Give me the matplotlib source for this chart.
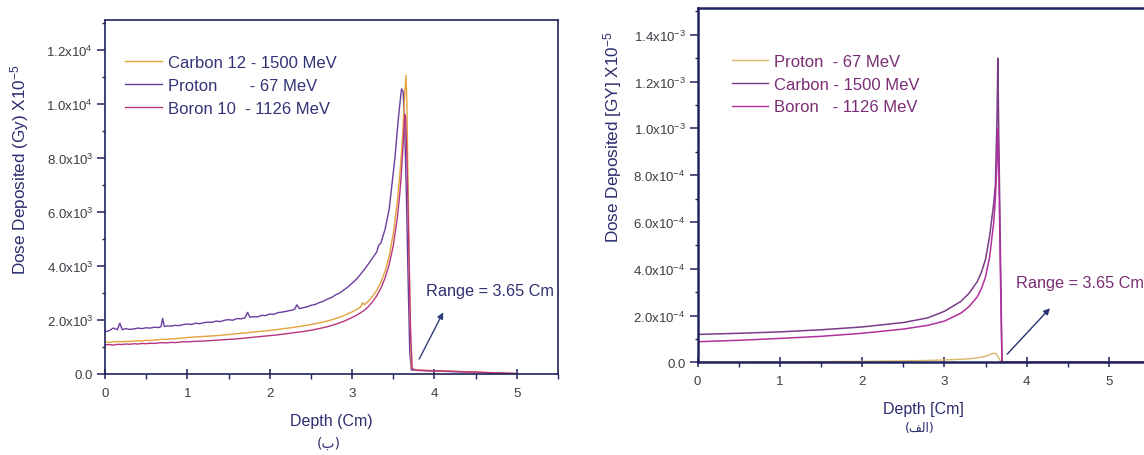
import matplotlib
matplotlib.use("Agg")
import matplotlib.pyplot as plt
from matplotlib.ticker import MultipleLocator

plt.rcParams['font.family'] = ['Liberation Sans', 'DejaVu Sans']
plt.rcParams['mathtext.fontset'] = 'custom'
plt.rcParams['mathtext.rm'] = 'Liberation Sans'

# ---------------- Left panel (ب) data ----------------
left_proton_depth = [0.00, 0.05, 0.10, 0.15, 0.18, 0.21, 0.25, 0.30, 0.35, 0.40, 0.45, 0.50, 0.55, 0.60,
                     0.65, 0.68, 0.70, 0.72, 0.76, 0.80, 0.85, 0.90, 0.95, 1.00, 1.05, 1.10, 1.15, 1.20,
                     1.25, 1.30, 1.35, 1.40, 1.45, 1.50, 1.55, 1.60, 1.65, 1.70, 1.73, 1.76, 1.80, 1.85,
                     1.90, 1.95, 2.00, 2.05, 2.10, 2.15, 2.20, 2.25, 2.30, 2.33, 2.36, 2.40, 2.45, 2.50,
                     2.55, 2.60, 2.65, 2.70, 2.75, 2.80, 2.85, 2.90, 2.95, 3.00, 3.05, 3.10, 3.15, 3.20,
                     3.25, 3.30, 3.32, 3.35, 3.40, 3.45, 3.48, 3.52, 3.56, 3.58, 3.60, 3.62, 3.64, 3.66,
                     3.68, 3.70, 3.72, 3.75, 3.80, 3.90, 4.00, 4.20, 4.50, 4.80, 5.00]
left_proton_dose = [1560, 1600, 1700, 1640, 1880, 1640, 1680, 1650, 1670, 1700, 1680, 1710, 1700, 1730,
                    1720, 1750, 2060, 1760, 1780, 1770, 1800, 1790, 1830, 1850, 1830, 1880, 1860, 1900,
                    1920, 1910, 1960, 1940, 1990, 2010, 1990, 2050, 2040, 2080, 2280, 2100, 2120, 2110,
                    2170, 2160, 2220, 2210, 2270, 2290, 2320, 2350, 2390, 2560, 2420, 2450, 2480, 2540,
                    2570, 2640, 2690, 2770, 2830, 2930, 3000, 3110, 3220, 3360, 3500, 3680, 3870, 4080,
                    4300, 4520, 4750, 4850, 5350, 6100, 6900, 8000, 9400, 10000, 10550, 10450, 9000, 6500,
                    3500, 800, 150, 140, 130, 120, 110, 90, 60, 30, 15]

left_carbon_depth = [0.00, 0.05, 0.10, 0.15, 0.20, 0.25, 0.30, 0.35, 0.40, 0.45, 0.50, 0.55, 0.60, 0.65,
                     0.70, 0.75, 0.80, 0.85, 0.90, 0.95, 1.00, 1.10, 1.20, 1.30, 1.40, 1.50, 1.60, 1.70,
                     1.80, 1.90, 2.00, 2.10, 2.20, 2.30, 2.40, 2.50, 2.60, 2.70, 2.80, 2.90, 3.00, 3.05,
                     3.10, 3.13, 3.15, 3.20, 3.25, 3.30, 3.35, 3.40, 3.45, 3.50, 3.55, 3.58, 3.60, 3.62,
                     3.64, 3.655, 3.665, 3.68, 3.70, 3.72, 3.75, 3.80, 3.90, 4.00, 4.20, 4.50, 4.80, 5.00]
left_carbon_dose = [1180, 1170, 1190, 1200, 1190, 1210, 1200, 1220, 1230, 1220, 1250, 1240, 1260, 1270,
                    1290, 1280, 1300, 1310, 1320, 1330, 1350, 1370, 1390, 1410, 1430, 1460, 1490, 1520,
                    1550, 1580, 1610, 1650, 1690, 1730, 1780, 1830, 1890, 1960, 2050, 2160, 2300, 2380,
                    2470, 2640, 2560, 2700, 2880, 3100, 3400, 3800, 4350, 5200, 6400, 7400, 8200, 9200,
                    10400, 11050, 10000, 7000, 3000, 250, 150, 140, 130, 120, 100, 70, 35, 15]

left_boron_depth = [0.00, 0.05, 0.10, 0.15, 0.20, 0.25, 0.30, 0.35, 0.40, 0.45, 0.50, 0.55, 0.60, 0.65,
                    0.70, 0.75, 0.80, 0.85, 0.90, 0.95, 1.00, 1.10, 1.20, 1.30, 1.40, 1.50, 1.60, 1.70,
                    1.80, 1.90, 2.00, 2.10, 2.20, 2.30, 2.40, 2.50, 2.60, 2.70, 2.80, 2.90, 3.00, 3.05,
                    3.10, 3.15, 3.20, 3.25, 3.30, 3.35, 3.40, 3.45, 3.50, 3.55, 3.58, 3.60, 3.62, 3.64,
                    3.65, 3.67, 3.69, 3.71, 3.73, 3.76, 3.80, 3.90, 4.00, 4.20, 4.50, 4.80, 5.00]
left_boron_dose = [1080, 1090, 1070, 1100, 1090, 1110, 1100, 1120, 1110, 1130, 1120, 1140, 1130, 1150,
                   1160, 1150, 1170, 1160, 1180, 1190, 1190, 1210, 1220, 1240, 1260, 1280, 1300, 1330,
                   1360, 1390, 1420, 1450, 1490, 1530, 1570, 1620, 1680, 1750, 1840, 1950, 2090, 2170,
                   2260, 2360, 2500, 2680, 2900, 3180, 3550, 4050, 4750, 5800, 6700, 7500, 8500, 9600,
                   9500, 7500, 4500, 1500, 200, 160, 140, 130, 120, 100, 70, 35, 15]

left_labels = ['Carbon 12 - 1500 MeV', 'Proton       - 67 MeV', 'Boron 10  - 1126 MeV']
left_yticks = [0, 2000, 4000, 6000, 8000, 10000, 12000]
left_yticklabels = ['0.0', r'$\mathregular{2.0x10^{3}}$', r'$\mathregular{4.0x10^{3}}$',
                    r'$\mathregular{6.0x10^{3}}$', r'$\mathregular{8.0x10^{3}}$',
                    r'$\mathregular{1.0x10^{4}}$', r'$\mathregular{1.2x10^{4}}$']
xticks = [0, 1, 2, 3, 4, 5]

# ---------------- Right panel (الف) data ----------------
right_carbon_depth = [0.0, 0.5, 1.0, 1.5, 2.0, 2.5, 2.8, 3.0, 3.2, 3.3, 3.4, 3.45, 3.5, 3.55, 3.6,
                      3.62, 3.64, 3.65, 3.66, 3.68, 3.70, 4.0, 5.0, 5.5]
right_carbon_dose = [1.19e-4, 1.24e-4, 1.30e-4, 1.39e-4, 1.51e-4, 1.70e-4, 1.90e-4, 2.18e-4, 2.60e-4,
                     2.95e-4, 3.45e-4, 3.85e-4, 4.40e-4, 5.40e-4, 6.80e-4, 7.60e-4, 1.05e-3, 1.30e-3,
                     1.00e-3, 5.0e-4, 0.0, 0.0, 0.0, 0.0]
right_boron_depth = [0.0, 0.5, 1.0, 1.5, 2.0, 2.5, 2.8, 3.0, 3.2, 3.3, 3.4, 3.45, 3.5, 3.55, 3.6,
                     3.62, 3.64, 3.65, 3.66, 3.68, 3.70, 4.0, 5.0, 5.5]
right_boron_dose = [0.88e-4, 0.94e-4, 1.02e-4, 1.11e-4, 1.24e-4, 1.42e-4, 1.58e-4, 1.76e-4, 2.10e-4,
                    2.38e-4, 2.80e-4, 3.15e-4, 3.65e-4, 4.50e-4, 6.00e-4, 7.00e-4, 8.60e-4, 1.00e-3,
                    8.50e-4, 4.0e-4, 0.0, 0.0, 0.0, 0.0]
right_proton_depth = [0.0, 0.5, 1.0, 1.5, 2.0, 2.5, 2.8, 3.0, 3.2, 3.3, 3.4, 3.5, 3.55, 3.6, 3.63,
                      3.66, 3.68, 3.70]
right_proton_dose = [1e-6, 1.5e-6, 2e-6, 3e-6, 4e-6, 6e-6, 8e-6, 1.0e-5, 1.3e-5, 1.5e-5, 1.9e-5,
                     2.6e-5, 3.2e-5, 3.9e-5, 3.6e-5, 2.0e-5, 5e-6, 0.0]

right_labels = ['Proton  - 67 MeV', 'Carbon - 1500 MeV', 'Boron   - 1126 MeV']
right_yticks = [0, 2e-4, 4e-4, 6e-4, 8e-4, 1.0e-3, 1.2e-3, 1.4e-3]
right_yticklabels = ['0.0', r'$\mathregular{2.0x10^{-4}}$', r'$\mathregular{4.0x10^{-4}}$',
                     r'$\mathregular{6.0x10^{-4}}$', r'$\mathregular{8.0x10^{-4}}$',
                     r'$\mathregular{1.0x10^{-3}}$', r'$\mathregular{1.2x10^{-3}}$',
                     r'$\mathregular{1.4x10^{-3}}$']

# ---------------- Figure ----------------
W, H = 1144, 456
fig = plt.figure(figsize=(W / 100, H / 100), dpi=100)
fig.patch.set_facecolor('white')

NAVY = '#2b2d6e'
SPINE = '#20225e'
TICKLBL = '#3c3c44'
PURPLE_TXT = '#7a2d74'

def px(x, y):
    return x / W, 1 - y / H

def style_axes(ax, lw, minor_x_dir):
    for s in ax.spines.values():
        s.set_color(SPINE)
        s.set_linewidth(lw)
    ax.tick_params(axis='x', which='major', direction='inout', length=7, width=1.1,
                   color=SPINE, labelcolor=TICKLBL, labelsize=9.5, pad=6, top=False)
    ax.tick_params(axis='x', which='minor', direction=minor_x_dir, length=3.5, width=1.0,
                   color=SPINE, top=False)
    ax.tick_params(axis='y', which='major', direction='out', length=5.5, width=1.1,
                   color=SPINE, labelcolor=TICKLBL, labelsize=9.5, pad=3, right=False)
    ax.tick_params(axis='y', which='minor', direction='out', length=2.5, width=1.0,
                   color=SPINE, right=False)
    ax.xaxis.set_minor_locator(MultipleLocator(0.5))

# Left axes
axL = fig.add_axes([105 / W, 1 - 375 / H, 453 / W, 354 / H])
axL.plot(left_proton_depth, left_proton_dose, color='#6a3d9e', lw=1.0)
axL.plot(left_carbon_depth, left_carbon_dose, color='#e5a23e', lw=1.0)
axL.plot(left_boron_depth, left_boron_dose, color='#b8347f', lw=1.0)
axL.set_xlim(0, 5.5)
axL.set_ylim(0, 13100)
axL.set_xticks(xticks)
axL.set_yticks(left_yticks)
axL.set_yticklabels(left_yticklabels)
axL.yaxis.set_minor_locator(MultipleLocator(1000))
style_axes(axL, 1.2, 'out')

legL_handles = [plt.Line2D([], [], color='#e5a23e', lw=1.0),
                plt.Line2D([], [], color='#6a3d9e', lw=1.0),
                plt.Line2D([], [], color='#b8347f', lw=1.0)]
legL = fig.legend(legL_handles, left_labels, loc='upper left', bbox_to_anchor=px(125, 56),
                  frameon=False, fontsize=12, handlelength=2.2, handletextpad=0.4,
                  labelspacing=0.48, borderpad=0, borderaxespad=0)
for t in legL.get_texts():
    t.set_color('#323476')

axL.annotate('', xy=(4.106, 2280), xytext=(3.815, 555),
             arrowprops=dict(arrowstyle='-|>', color='#2e3f78', lw=1.0, mutation_scale=9,
                             shrinkA=0, shrinkB=0))
axL.text(3.90, 3080, 'Range = 3.65 Cm', fontsize=11.7, color='#2e3070', va='center', ha='left')

fig.text(*px(20, 170), r'Dose Deposited (Gy) X10$\mathregular{^{-5}}$', rotation=90,
         fontsize=12.3, color=NAVY, ha='center', va='center')
fig.text(*px(331.5, 421.7), 'Depth (Cm)', fontsize=11.5, color=NAVY, ha='center', va='center')
fig.text(*px(329, 444), '(\uFE8F)', fontsize=10, color=NAVY, ha='center', va='center',
         family=['DejaVu Sans'])

# Right axes
axR = fig.add_axes([697.5 / W, 1 - 363.3 / H, 452.6 / W, 354 / H])
axR.plot(right_proton_depth, right_proton_dose, color='#d9b96a', lw=1.0)
axR.plot(right_carbon_depth, right_carbon_dose, color='#7a3b88', lw=1.1)
axR.plot(right_boron_depth, right_boron_dose, color='#b0309c', lw=1.1)
axR.set_xlim(0, 5.5)
axR.set_ylim(0, 1.513e-3)
axR.set_xticks(xticks)
axR.set_yticks(right_yticks)
axR.set_yticklabels(right_yticklabels)
axR.yaxis.set_minor_locator(MultipleLocator(1e-4))
style_axes(axR, 1.8, 'out')

legR_handles = [plt.Line2D([], [], color='#d9b96a', lw=1.0),
                plt.Line2D([], [], color='#7a3b88', lw=1.0),
                plt.Line2D([], [], color='#b0309c', lw=1.0)]
legR = fig.legend(legR_handles, right_labels, loc='upper left', bbox_to_anchor=px(731.7, 55),
                  frameon=False, fontsize=12, handlelength=2.2, handletextpad=0.35,
                  labelspacing=0.46, borderpad=0, borderaxespad=0)
for t in legR.get_texts():
    t.set_color(PURPLE_TXT)

axR.annotate('', xy=(4.283, 2.31e-4), xytext=(3.764, 0.35e-4),
             arrowprops=dict(arrowstyle='-|>', color='#2a3170', lw=1.0, mutation_scale=9,
                             shrinkA=0, shrinkB=0))
axR.text(3.866, 3.42e-4, 'Range = 3.65 Cm', fontsize=11.7, color=PURPLE_TXT, va='center', ha='left')

fig.text(*px(613, 137.5), r'Dose Deposited [GY] X10$\mathregular{^{-5}}$', rotation=90,
         fontsize=12.3, color=NAVY, ha='center', va='center')
fig.text(*px(923.7, 410), 'Depth [Cm]', fontsize=11.5, color=NAVY, ha='center', va='center')
fig.text(*px(920, 428.5), '(\uFED2\uFEDF\uFE8D)', fontsize=9, color=NAVY, ha='center', va='center',
         family=['DejaVu Sans'])

fig.savefig('out.png', dpi=100, facecolor='white')
